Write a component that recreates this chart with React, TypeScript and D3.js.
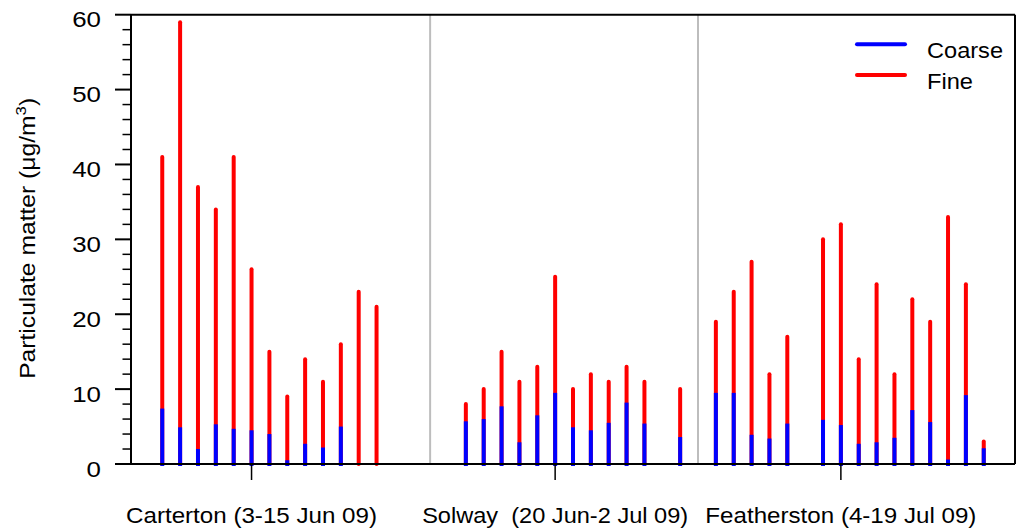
import React from "react";
import * as d3 from "d3";

// Daily particulate samples at three sites (μg/m³), coarse and fine fractions
const cartertonDates = [
  "2009-06-03", "2009-06-04", "2009-06-05", "2009-06-06", "2009-06-07",
  "2009-06-08", "2009-06-09", "2009-06-10", "2009-06-11", "2009-06-12",
  "2009-06-13", "2009-06-14", "2009-06-15",
];
const cartertonCoarse = [7.4, 4.9, 2.0, 5.3, 4.7, 4.5, 4.0, 0.5, 2.7, 2.2, 5.0, 0, 0];
const cartertonFine = [33.6, 54.1, 35.0, 28.7, 36.3, 21.5, 11.0, 8.5, 11.3, 8.8, 11.0, 23.0, 21.0];

const solwayDates = [
  "2009-06-20", "2009-06-21", "2009-06-22", "2009-06-23", "2009-06-24",
  "2009-06-25", "2009-06-26", "2009-06-27", "2009-06-28", "2009-06-29",
  "2009-06-30", "2009-07-02",
];
const solwayCoarse = [5.7, 6.0, 7.7, 2.9, 6.5, 9.5, 4.9, 4.5, 5.5, 8.2, 5.4, 3.6];
const solwayFine = [2.3, 4.0, 7.3, 8.1, 6.5, 15.5, 5.1, 7.5, 5.5, 4.8, 5.6, 6.4];

const featherstonDates = [
  "2009-07-04", "2009-07-05", "2009-07-06", "2009-07-07", "2009-07-08",
  "2009-07-10", "2009-07-11", "2009-07-12", "2009-07-13", "2009-07-14",
  "2009-07-15", "2009-07-16", "2009-07-17", "2009-07-18", "2009-07-19",
];
const featherstonCoarse = [9.5, 9.5, 3.9, 3.4, 5.4, 5.9, 5.2, 2.7, 2.9, 3.5, 7.2, 5.6, 0.6, 9.2, 2.1];
const featherstonFine = [9.5, 13.5, 23.1, 8.6, 11.6, 24.1, 26.8, 11.3, 21.1, 8.5, 14.8, 13.4, 32.4, 14.8, 0.9];

// Site labels, placed under a representative day of each campaign
const siteLabels = ["Carterton (3-15 Jun 09)", "Solway  (20 Jun-2 Jul 09)", "Featherston (4-19 Jul 09)"];
const siteLabelDates = ["2009-06-08", "2009-06-25", "2009-07-11"];
const siteLabelWidths = [251, 266, 271];
// Boundaries between campaigns
const dividerDates = ["2009-06-18", "2009-07-03"];

const seriesNames = ["Coarse", "Fine"];
const seriesColors = ["#0000ff", "#ff0000"];
const legendWidths = [76, 46];

const yMajorTicks = [0, 10, 20, 30, 40, 50, 60];

const W = 1016;
const H = 529;
const FONT = "'Liberation Sans', Arial, Helvetica, sans-serif";

const noon = (s: string) => new Date(s + "T12:00:00Z");

type Sample = { date: Date; coarse: number; fine: number };

function build(dates: string[], coarse: number[], fine: number[]): Sample[] {
  return dates.map((d, i) => ({ date: noon(d), coarse: coarse[i], fine: fine[i] }));
}

export default function App() {
  const left = 131;
  const right = 1015;
  const top = 14.7;
  const bottom = 464;

  const x = d3
    .scaleUtc()
    .domain([new Date(Date.UTC(2009, 5, 1, 18)), new Date(Date.UTC(2009, 6, 21, 6))])
    .range([left, right]);
  const y = d3.scaleLinear().domain([0, 60]).range([bottom, top]);

  const samples = [
    ...build(cartertonDates, cartertonCoarse, cartertonFine),
    ...build(solwayDates, solwayCoarse, solwayFine),
    ...build(featherstonDates, featherstonCoarse, featherstonFine),
  ];

  const minorTicks = d3.range(0, 61, 2).filter((v) => v % 10 !== 0);
  const barW = 4;

  return (
    <svg
      width={W}
      height={H}
      style={{ position: "absolute", left: 0, top: 0, background: "#fff" }}
      fontFamily={FONT}
    >
      {/* campaign dividers */}
      {dividerDates.map((d) => (
        <line
          key={d}
          x1={x(noon(d))}
          x2={x(noon(d))}
          y1={y(60)}
          y2={y(0)}
          stroke="#bdbdbd"
          strokeWidth={2}
        />
      ))}

      {/* stacked daily bars */}
      {samples.map((s, i) => {
        const cx = x(s.date);
        const total = s.coarse + s.fine;
        return (
          <g key={i}>
            <line
              x1={cx}
              x2={cx}
              y1={y(0)}
              y2={y(total)}
              stroke={seriesColors[1]}
              strokeWidth={barW}
              strokeLinecap="round"
            />
            {s.coarse > 0 && (
              <line
                x1={cx}
                x2={cx}
                y1={y(0) + 2}
                y2={y(s.coarse)}
                stroke={seriesColors[0]}
                strokeWidth={barW}
              />
            )}
          </g>
        );
      })}

      {/* frame */}
      <line x1={left} x2={left} y1={top} y2={bottom} stroke="#000" strokeWidth={2} />
      <line x1={right} x2={right} y1={top} y2={bottom} stroke="#000" strokeWidth={2} />
      <line x1={left} x2={right} y1={top} y2={top} stroke="#000" strokeWidth={2} />
      <line x1={left} x2={right} y1={bottom} y2={bottom} stroke="#000" strokeWidth={2} />

      {/* y axis ticks and labels */}
      {yMajorTicks.map((v) => (
        <g key={v}>
          <line x1={left - 16} x2={left} y1={y(v)} y2={y(v)} stroke="#000" strokeWidth={2} />
          <text
            transform={`translate(101, ${y(v) + 12.5}) scale(1.15, 1)`}
            textAnchor="end"
            fontSize={22.5}
            fill="#000"
          >
            {v}
          </text>
        </g>
      ))}
      {minorTicks.map((v) => (
        <line key={v} x1={left - 8.5} x2={left} y1={y(v)} y2={y(v)} stroke="#000" strokeWidth={1.5} />
      ))}

      {/* y axis title */}
      <text
        transform={`translate(35, ${(top + bottom) / 2 - 1}) rotate(-90)`}
        textAnchor="middle"
        fontSize={22}
        fill="#000"
        textLength={281}
        lengthAdjust="spacingAndGlyphs"
      >
        Particulate matter (μg/m
        <tspan dy={-9} fontSize={15}>3</tspan>
        <tspan dy={9}>)</tspan>
      </text>

      {/* site ticks and labels */}
      {siteLabelDates.map((d, i) => {
        const cx = x(noon(d));
        return (
          <g key={d}>
            <line x1={cx} x2={cx} y1={bottom} y2={bottom + 16} stroke="#000" strokeWidth={1.5} />
            <text
              x={cx - siteLabelWidths[i] / 2}
              y={523}
              fontSize={22.5}
              fill="#000"
              textLength={siteLabelWidths[i]}
              lengthAdjust="spacingAndGlyphs"
              style={{ whiteSpace: "pre" }}
            >
              {siteLabels[i]}
            </text>
          </g>
        );
      })}

      {/* legend */}
      {seriesNames.map((name, i) => {
        const ly = 44.3 + i * 30.7;
        return (
          <g key={name}>
            <line
              x1={857}
              x2={905}
              y1={ly}
              y2={ly}
              stroke={seriesColors[i]}
              strokeWidth={4}
              strokeLinecap="round"
            />
            <text
              x={927}
              y={ly + 13.5}
              fontSize={22.5}
              fill="#000"
              textLength={legendWidths[i]}
              lengthAdjust="spacingAndGlyphs"
            >
              {name}
            </text>
          </g>
        );
      })}
    </svg>
  );
}
